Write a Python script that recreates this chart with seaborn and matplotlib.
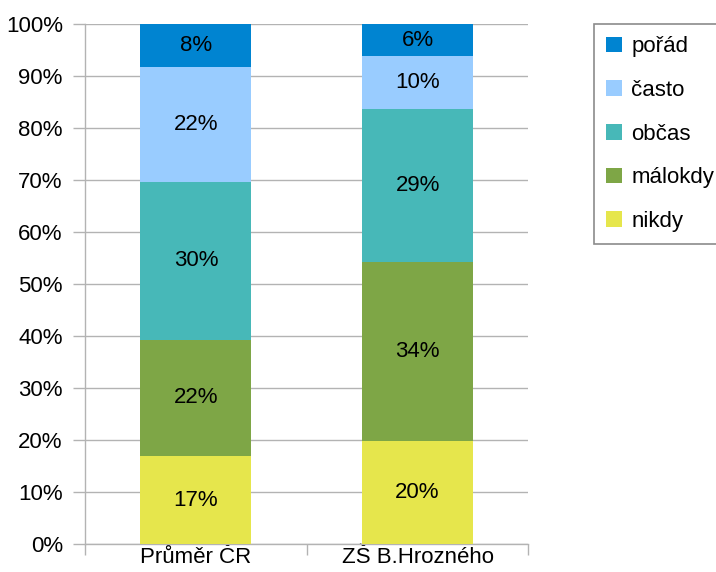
import matplotlib
matplotlib.use("Agg")
import matplotlib.pyplot as plt
from matplotlib import font_manager
from matplotlib.patches import Patch
import seaborn as sns
import numpy as np
import pandas as pd

categories = ["Průměr ČR", "ZŠ B.Hrozného"]
series = ["nikdy", "málokdy", "občas", "často", "pořád"]
nikdy = [16.9, 19.9]
malokdy = [22.4, 34.4]
obcas = [30.3, 29.3]
casto = [22.1, 10.2]
porad = [8.3, 6.2]
colors = ["#e6e64c", "#7ea646", "#47b8b8", "#99ccff", "#0084d1"]
yticks = [0, 10, 20, 30, 40, 50, 60, 70, 80, 90, 100]

sns.set_theme(style="white")
avail = {f.name for f in font_manager.fontManager.ttflist}
fam = None
for cand in ["Liberation Sans Narrow", "DejaVu Sans Condensed", "Liberation Sans"]:
    if cand in avail:
        fam = cand
        break
plt.rcParams["font.family"] = [fam, "DejaVu Sans"]
plt.rcParams["text.color"] = "black"
plt.rcParams["xtick.color"] = "black"
plt.rcParams["ytick.color"] = "black"

vals = [nikdy, malokdy, obcas, casto, porad]
df = pd.DataFrame({"kategorie": categories})
for s, v in zip(series, vals):
    df[s] = v
cum = df[series].cumsum(axis=1)

fig = plt.figure(figsize=(7.16, 5.72), dpi=100)
ax = fig.add_axes([85 / 716, 1 - 544 / 572, (528.5 - 85) / 716, 520 / 572])

FS = 16
grid_c = "#b3b3b3"
for s, c in reversed(list(zip(series, colors))):
    sns.barplot(data=df.assign(top=cum[s]), x="kategorie", y="top", color=c,
                saturation=1, width=0.5, ax=ax, zorder=3, linewidth=0)

for i in range(len(categories)):
    for s in series:
        v = df.loc[i, s]
        mid = cum.loc[i, s] - v / 2
        ax.text(i, mid, f"{v:.0f}%", ha="center", va="center", fontsize=FS,
                color="black", zorder=5)

ax.set_ylim(0, 100)
ax.set_xlim(-0.5, 1.5)
ax.set_yticks(yticks)
ax.set_yticklabels([f"{t}%" for t in yticks], fontsize=FS)
ax.set_xticks([0, 1])
ax.set_xticklabels(categories, fontsize=FS)
ax.set_xticks([-0.5, 0.5, 1.5], minor=True)
ax.tick_params(axis="x", which="major", length=0, pad=2, labelcolor="black")
ax.tick_params(axis="x", which="minor", length=8, width=1, color=grid_c, bottom=True)
ax.tick_params(axis="y", which="major", length=9, width=1, color=grid_c, left=True,
               pad=7, labelcolor="black")
ax.set_xlabel("")
ax.set_ylabel("")
ax.yaxis.grid(True, color=grid_c, linewidth=1, zorder=0)
ax.set_axisbelow(True)
for sp in ["top", "right"]:
    ax.spines[sp].set_visible(False)
for sp in ["left", "bottom"]:
    ax.spines[sp].set_color(grid_c)
    ax.spines[sp].set_linewidth(1)

handles = [Patch(facecolor=c, edgecolor="none", label=s)
           for s, c in reversed(list(zip(series, colors)))]
leg = fig.legend(handles=handles, loc="upper left",
                 bbox_to_anchor=(594 / 716, 1 - 24 / 572), frameon=True,
                 fontsize=FS, handlelength=0.72, handleheight=0.72,
                 handletextpad=0.4, labelspacing=1.02, borderpad=0.55,
                 fancybox=False, borderaxespad=0)
leg.get_frame().set_edgecolor("#6e6e6e")
leg.get_frame().set_linewidth(1.2)
for t in leg.get_texts():
    t.set_color("black")

fig.savefig("out.png", dpi=100)
